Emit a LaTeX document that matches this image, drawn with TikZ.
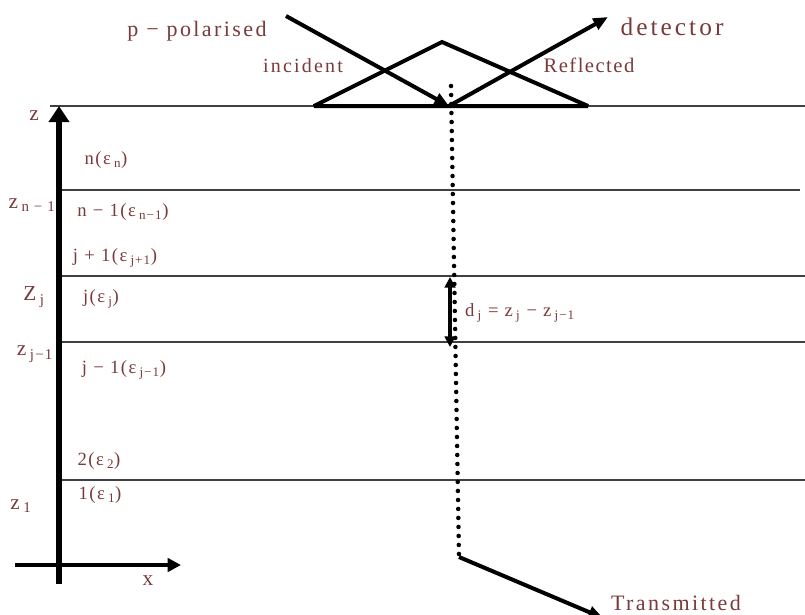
\documentclass[tikz,border=0pt]{standalone}
\usepackage{fontspec}
\setmainfont{Liberation Serif}
\usetikzlibrary{arrows.meta}
\definecolor{labred}{RGB}{122,58,58}
\tikzset{
  lbl/.style={text=labred,inner sep=0pt,font=\fontsize{14}{16}\selectfont\addfontfeatures{LetterSpace=8}},
  zlbl/.style={lbl,font=\fontsize{16}{18}\selectfont\addfontfeatures{LetterSpace=8}},
  biglbl/.style={lbl,font=\fontsize{16.5}{19}\selectfont\addfontfeatures{LetterSpace=11}},
  ray/.style={line width=3pt,-{Triangle[length=11pt,width=9pt]}},
  layer/.style={line width=1pt,black!75}
}
\begin{document}
\begin{tikzpicture}[x=0.75pt,y=-0.75pt]
  \clip (0,0) rectangle (805,614);
  % interfaces
  \coordinate (top0) at (50,106);  \coordinate (top1) at (805,106);
  \coordinate (zn0) at (62,190);   \coordinate (zn1) at (800,190);
  \coordinate (zj0) at (62,276);   \coordinate (zj1) at (805,276);
  \coordinate (zk0) at (62,342);   \coordinate (zk1) at (805,342);
  \coordinate (zo0) at (62,480);   \coordinate (zo1) at (805,480);
  \draw [layer] (top0) -- (top1);
  \draw [layer] (zn0) -- (zn1);
  \draw [layer] (zj0) -- (zj1);
  \draw [layer] (zk0) -- (zk1);
  \draw [layer] (zo0) -- (zo1);
  % prism
  \coordinate (pl) at (314,106);
  \coordinate (pa) at (442,42);
  \coordinate (pr) at (588,106);
  \draw [line width=3pt,miter limit=2.5] (pl) -- (pa) -- (pr) -- cycle;
  % incident and reflected beams
  \coordinate (src) at (286,16);
  \coordinate (hit) at (449,106);
  \coordinate (det) at (608,17);
  \draw [ray] (src) -- (hit);
  \draw [ray] (hit) -- (det);
  % transmitted beam
  \coordinate (dot0) at (451,86);
  \coordinate (dot1) at (459,557);
  \coordinate (tr) at (603,618);
  \draw [line width=3.4pt,line cap=round,dash pattern=on 0pt off 6.75pt] (dot0) -- (dot1);
  \draw [ray] (dot1) -- (tr);
  % layer thickness
  \coordinate (dj0) at (450,277);
  \coordinate (dj1) at (450,347);
  \draw [line width=3pt,{Triangle[length=8pt,width=8pt]}-{Triangle[length=8pt,width=8pt]}] (dj0) -- (dj1);
  % axes
  \coordinate (zb) at (59,584);
  \coordinate (zt) at (59,106);
  \coordinate (xb) at (15,565);
  \coordinate (xt) at (181,565);
  \draw [line width=5pt,-{Triangle[length=12pt,width=15pt]}] (zb) -- (zt);
  \draw [line width=3.5pt,-{Triangle[length=10pt,width=10pt]}] (xb) -- (xt);
  % labels
  \node (pol) [biglbl] at (197,31) {p − polarised};
  \node (inc) [lbl,font=\fontsize{15}{17}\selectfont\addfontfeatures{LetterSpace=11}] at (303,66) {incident};
  \node (refl) [lbl,font=\fontsize{15.5}{17}\selectfont\addfontfeatures{LetterSpace=7}] at (589,65) {Reflected};
  \node (dett) [lbl,font=\fontsize{19}{21}\selectfont\addfontfeatures{LetterSpace=12}] at (672,27) {detector};
  \node (trt) [biglbl] at (676,603) {Transmitted};
  \node (zz) [zlbl] at (34,116) {z};
  \node (znl) [zlbl] at (32,205) {z\,\textsubscript{n − 1}};
  \node (zjl) [zlbl] at (34,297) {Z\,\textsubscript{j}};
  \node (zkl) [zlbl] at (35,354) {z\,\textsubscript{j−1}};
  \node (z1l) [zlbl] at (21,506) {z\,\textsubscript{1}};
  \node (xx) [zlbl] at (148,581) {x};
  \node (en) [lbl] at (106,160) {n(ε\,\textsubscript{n})};
  \node (enm) [lbl] at (123,212) {n − 1(ε\,\textsubscript{n−1})};
  \node (ejp) [lbl] at (115,258) {j + 1(ε\,\textsubscript{j+1})};
  \node (ej) [lbl] at (101,299) {j(ε\,\textsubscript{j})};
  \node (ejm) [lbl] at (124,370) {j − 1(ε\,\textsubscript{j−1})};
  \node (e2) [lbl] at (99,461) {2(ε\,\textsubscript{2})};
  \node (e1) [lbl] at (100,495) {1(ε\,\textsubscript{1})};
  \node (dj) [lbl] at (520,313) {d\,\textsubscript{j} = z\,\textsubscript{j} − z\,\textsubscript{j−1}};
\end{tikzpicture}
\end{document}
